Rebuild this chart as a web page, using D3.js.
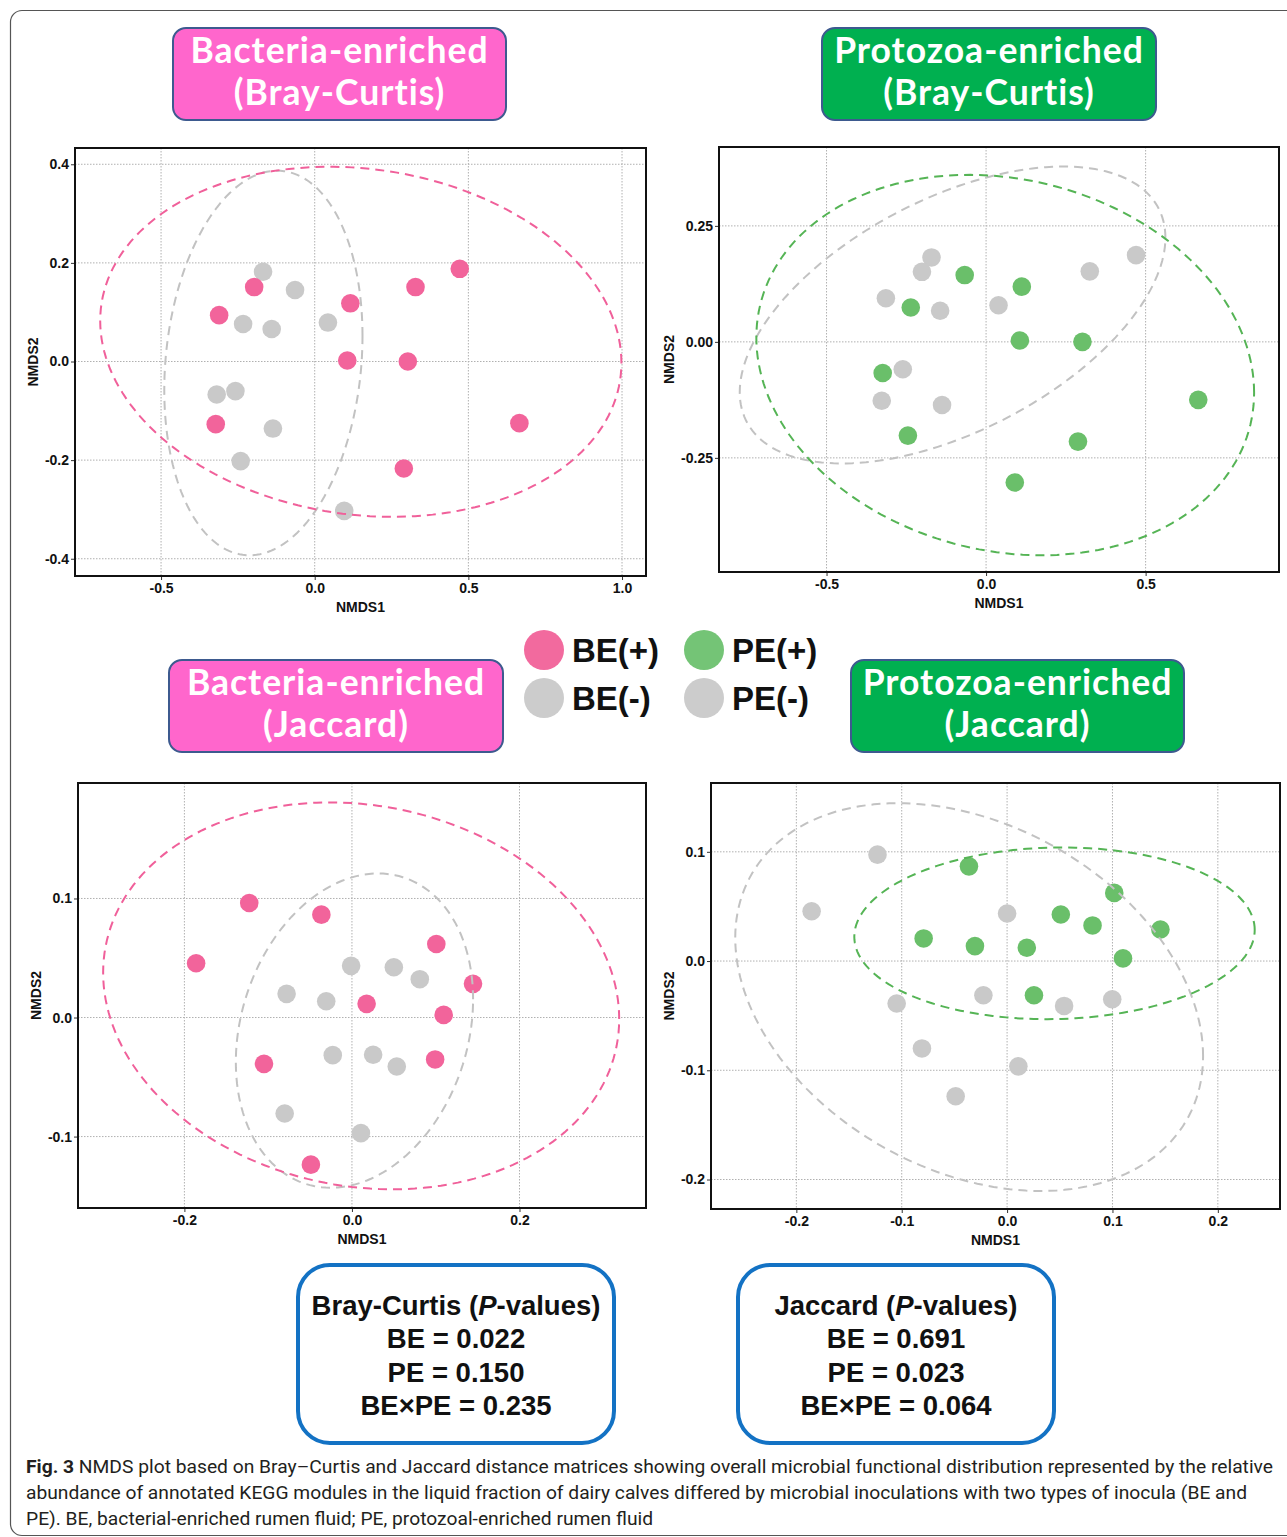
<!DOCTYPE html>
<html>
<head>
<meta charset="utf-8">
<script src="https://cdn.jsdelivr.net/npm/d3@7"></script>
<style>
  html, body { margin: 0; padding: 0; background: #fff; }
  svg { display: block; }
</style>
</head>
<body>
<svg id="chart" width="1287" height="1537"></svg>
<script>
// ---------------- DATA ----------------
// Panel 1: Bacteria-enriched (Bray-Curtis)  [NMDS1, NMDS2]
const bcBE_pos = [[-0.197,0.151],[-0.311,0.094],[0.116,0.118],[0.472,0.188],[0.328,0.151],
                  [0.106,0.002],[0.303,0.000],[-0.322,-0.127],[0.666,-0.125],[0.290,-0.217]];
const bcBE_neg = [[-0.168,0.182],[-0.064,0.145],[-0.233,0.076],[-0.140,0.066],[0.043,0.079],
                  [-0.319,-0.067],[-0.258,-0.060],[-0.136,-0.136],[-0.241,-0.202],[0.096,-0.303]];
// Panel 2: Protozoa-enriched (Bray-Curtis)
const bcPE_pos = [[-0.067,0.144],[-0.236,0.074],[0.112,0.119],[0.106,0.003],[0.302,0.000],
                  [-0.324,-0.067],[0.665,-0.125],[-0.245,-0.202],[0.288,-0.215],[0.090,-0.303]];
const bcPE_neg = [[-0.171,0.182],[-0.201,0.151],[-0.314,0.094],[-0.144,0.067],[0.039,0.079],
                  [0.325,0.152],[0.470,0.187],[-0.261,-0.059],[-0.327,-0.127],[-0.138,-0.136]];
// Panel 3: Bacteria-enriched (Jaccard)
const jBE_pos = [[-0.1226,0.0962],[-0.0365,0.0864],[-0.186,0.0456],[0.1007,0.0618],[0.1445,0.0283],
                 [0.0175,0.0115],[0.1095,0.0022],[-0.105,-0.0389],[0.0993,-0.0352],[-0.049,-0.1236]];
const jBE_neg = [[-0.001,0.0434],[0.050,0.0422],[0.081,0.0322],[-0.078,0.0199],[-0.0307,0.0137],
                 [-0.0229,-0.0316],[0.0253,-0.0313],[0.0535,-0.0411],[-0.0803,-0.0806],[0.0107,-0.0971]];
// Panel 4: Protozoa-enriched (Jaccard)
const jPE_pos = [[-0.0362,0.0867],[0.1017,0.0624],[0.051,0.0426],[0.0811,0.0326],[0.1455,0.0289],
                 [-0.0792,0.0207],[-0.0305,0.0137],[0.0187,0.0122],[0.110,0.0024],[0.0255,-0.0313]];
const jPE_neg = [[-0.123,0.0974],[-0.1855,0.0456],[0.000,0.0435],[-0.0225,-0.0313],[-0.1048,-0.0389],
                 [0.0541,-0.0411],[0.0998,-0.035],[-0.0808,-0.080],[0.0107,-0.0964],[-0.0488,-0.1238]];

// Confidence ellipses: [centerX, centerY, halfWidthX, halfHeightY, correlation]
const bcBE_ellPos = [0.150, 0.040, 0.848, 0.355, -0.12];
const bcBE_ellNeg = [-0.167, -0.003, 0.3225, 0.390, 0.14];
const bcPE_ellPos = [0.060, -0.050, 0.780, 0.410, -0.145];
const bcPE_ellNeg = [-0.105, 0.058, 0.667, 0.320, 0.52];
const jBE_ellPos  = [0.011, 0.0182, 0.308, 0.1625, -0.12];
const jBE_ellNeg  = [0.003, -0.011, 0.1416, 0.132, 0.20];
const jPE_ellPos  = [0.045, 0.0254, 0.190, 0.0786, 0.04];
const jPE_ellNeg  = [-0.036, -0.033, 0.222, 0.1775, -0.305];

// Axis domains and ticks
const bcBE_xDomain = [-0.78, 1.078], bcBE_yDomain = [-0.435, 0.433];
const bcPE_xDomain = [-0.837, 0.918], bcPE_yDomain = [-0.496, 0.42];
const jBE_xDomain  = [-0.327, 0.351], jBE_yDomain  = [-0.160, 0.197];
const jPE_xDomain  = [-0.281, 0.259], jPE_yDomain  = [-0.227, 0.163];
const bcBE_xTicks = [-0.5, 0.0, 0.5, 1.0], bcBE_yTicks = [-0.4, -0.2, 0.0, 0.2, 0.4];
const bcPE_xTicks = [-0.5, 0.0, 0.5],      bcPE_yTicks = [-0.25, 0.0, 0.25];
const jBE_xTicks  = [-0.2, 0.0, 0.2],      jBE_yTicks  = [-0.1, 0.0, 0.1];
const jPE_xTicks  = [-0.2, -0.1, 0.0, 0.1, 0.2], jPE_yTicks = [-0.2, -0.1, 0.0, 0.1];

const panelTitles = [["Bacteria-enriched","(Bray-Curtis)"],["Protozoa-enriched","(Bray-Curtis)"],
                     ["Bacteria-enriched","(Jaccard)"],["Protozoa-enriched","(Jaccard)"]];
const legendLabels = ["BE(+)","BE(-)","PE(+)","PE(-)"];
const bcPvalues = [["BE","0.022"],["PE","0.150"],["BE×PE","0.235"]];
const jPvalues  = [["BE","0.691"],["PE","0.023"],["BE×PE","0.064"]];
const captionLines = [
  "NMDS plot based on Bray–Curtis and Jaccard distance matrices showing overall microbial functional distribution represented by the relative",
  "abundance of annotated KEGG modules in the liquid fraction of dairy calves differed by microbial inoculations with two types of inocula (BE and",
  "PE). BE, bacterial-enriched rumen fluid; PE, protozoal-enriched rumen fluid"
];

// ---------------- STYLE ----------------
const PINK = "#f2649b", GREEN = "#6abf6a", GREY = "#c9c9c9";
const PINK_E = "#f0609a", GREEN_E = "#55b455", GREY_E = "#c2c2c2";
const TITLE_PINK = "#ff66cc", TITLE_GREEN = "#00b050", TITLE_STROKE = "#3d5a8f";

const loc = d3.formatLocale({decimal: ".", thousands: ",", grouping: [3], currency: ["", ""], minus: "-"});

const svg = d3.select("#chart");
svg.append("rect").attr("width",1287).attr("height",1537).attr("fill","#fff");

// outer frame
svg.append("path")
  .attr("d","M1287,10.5 H22 A11.5,11.5 0 0 0 10.5,22 V1524 A11.5,11.5 0 0 0 22,1535.5 H1287")
  .attr("fill","none").attr("stroke","#555").attr("stroke-width",1.2);

// ---------------- PANELS ----------------
const panels = [
  {box:[75,148,646,576], xd:bcBE_xDomain, yd:bcBE_yDomain, xt:bcBE_xTicks, yt:bcBE_yTicks, yfmt:".1f",
   pos:bcBE_pos, neg:bcBE_neg, eP:bcBE_ellPos, eN:bcBE_ellNeg, col:PINK, ecol:PINK_E, xlab:607, ylab:33},
  {box:[719,147,1279,572], xd:bcPE_xDomain, yd:bcPE_yDomain, xt:bcPE_xTicks, yt:bcPE_yTicks, yfmt:".2f",
   pos:bcPE_pos, neg:bcPE_neg, eP:bcPE_ellPos, eN:bcPE_ellNeg, col:GREEN, ecol:GREEN_E, xlab:603, ylab:669},
  {box:[78,783,646,1208], xd:jBE_xDomain, yd:jBE_yDomain, xt:jBE_xTicks, yt:jBE_yTicks, yfmt:".1f",
   pos:jBE_pos, neg:jBE_neg, eP:jBE_ellPos, eN:jBE_ellNeg, col:PINK, ecol:PINK_E, xlab:1239, ylab:36},
  {box:[711,783,1280,1209], xd:jPE_xDomain, yd:jPE_yDomain, xt:jPE_xTicks, yt:jPE_yTicks, yfmt:".1f",
   pos:jPE_pos, neg:jPE_neg, eP:jPE_ellPos, eN:jPE_ellNeg, col:GREEN, ecol:GREEN_E, xlab:1240, ylab:669}
];

function ellipsePts(e) {
  const [cx, cy, w, h, r] = e;
  const pts = [];
  for (let i = 0; i < 180; i++) {
    const t = i / 180 * 2 * Math.PI;
    pts.push([cx + w * Math.cos(t), cy + r * h * Math.cos(t) + h * Math.sqrt(1 - r * r) * Math.sin(t)]);
  }
  return pts;
}

panels.forEach((p, i) => {
  const [x0, y0, x1, y1] = p.box;
  const x = d3.scaleLinear().domain(p.xd).range([x0, x1]);
  const y = d3.scaleLinear().domain(p.yd).range([y1, y0]);
  const g = svg.append("g");
  const clipId = "clip" + i;
  svg.append("clipPath").attr("id", clipId).append("rect")
    .attr("x", x0).attr("y", y0).attr("width", x1 - x0).attr("height", y1 - y0);

  // grid
  const grid = g.append("g").attr("clip-path", `url(#${clipId})`);
  grid.selectAll("line.vx").data(p.xt).join("line")
    .attr("x1", d => x(d)).attr("x2", d => x(d)).attr("y1", y0).attr("y2", y1)
    .attr("stroke", "#b0b0b0").attr("stroke-width", 1).attr("stroke-dasharray", "1.5,1.5");
  grid.selectAll("line.hy").data(p.yt).join("line")
    .attr("x1", x0).attr("x2", x1).attr("y1", d => y(d)).attr("y2", d => y(d))
    .attr("stroke", "#b0b0b0").attr("stroke-width", 1).attr("stroke-dasharray", "1.5,1.5");

  // axes
  const xAxis = d3.axisBottom(x).tickValues(p.xt).tickFormat(loc.format(".1f")).tickSize(4).tickPadding(3);
  const yAxis = d3.axisLeft(y).tickValues(p.yt).tickFormat(loc.format(p.yfmt)).tickSize(4).tickPadding(2);
  const gx = g.append("g").attr("transform", `translate(0,${y1})`).call(xAxis);
  const gy = g.append("g").attr("transform", `translate(${x0},0)`).call(yAxis);
  [gx, gy].forEach(a => {
    a.select(".domain").remove();
    a.selectAll(".tick line").attr("stroke", "#333");
    a.selectAll(".tick text").attr("font-family", "Liberation Sans, Arial, sans-serif")
      .attr("font-weight", "bold").attr("font-size", 14).attr("fill", "#111");
  });

  // points
  const pts = g.append("g").attr("clip-path", `url(#${clipId})`);
  pts.selectAll("circle.neg").data(p.neg).join("circle")
    .attr("cx", d => x(d[0])).attr("cy", d => y(d[1])).attr("r", 9.3).attr("fill", GREY);
  pts.selectAll("circle.pos").data(p.pos).join("circle")
    .attr("cx", d => x(d[0])).attr("cy", d => y(d[1])).attr("r", 9.3).attr("fill", p.col);

  // ellipses
  const line = d3.line().x(d => x(d[0])).y(d => y(d[1])).curve(d3.curveLinearClosed);
  const eg = g.append("g").attr("clip-path", `url(#${clipId})`);
  eg.append("path").attr("d", line(ellipsePts(p.eN))).attr("fill", "none")
    .attr("stroke", GREY_E).attr("stroke-width", 2).attr("stroke-dasharray", "9,6");
  eg.append("path").attr("d", line(ellipsePts(p.eP))).attr("fill", "none")
    .attr("stroke", p.ecol).attr("stroke-width", 2).attr("stroke-dasharray", "9,6");

  // border
  g.append("rect").attr("x", x0).attr("y", y0).attr("width", x1 - x0).attr("height", y1 - y0)
    .attr("fill", "none").attr("stroke", "#111").attr("stroke-width", 2);

  // axis titles
  g.append("text").attr("x", (x0 + x1) / 2).attr("y", p.xlab + 5).attr("text-anchor", "middle")
    .attr("font-family", "Liberation Sans, Arial, sans-serif").attr("font-weight", "bold")
    .attr("font-size", 14).attr("fill", "#111").text("NMDS1");
  g.append("text").attr("transform", `translate(${p.ylab + 5},${(y0 + y1) / 2}) rotate(-90)`)
    .attr("text-anchor", "middle")
    .attr("font-family", "Liberation Sans, Arial, sans-serif").attr("font-weight", "bold")
    .attr("font-size", 14).attr("fill", "#111").text("NMDS2");
});

// ---------------- TITLE BOXES ----------------
const titleBoxes = [
  {x:173, y:28, w:333, h:92, fill:TITLE_PINK},
  {x:822, y:28, w:334, h:92, fill:TITLE_GREEN},
  {x:169, y:660, w:334, h:92, fill:TITLE_PINK},
  {x:851, y:660, w:333, h:92, fill:TITLE_GREEN}
];
titleBoxes.forEach((b, i) => {
  svg.append("rect").attr("x", b.x).attr("y", b.y).attr("width", b.w).attr("height", b.h)
    .attr("rx", 13).attr("fill", b.fill).attr("stroke", TITLE_STROKE).attr("stroke-width", 2);
  [0, 1].forEach(k => {
    svg.append("text").attr("text-anchor", "middle")
      .attr("x", b.x + b.w / 2).attr("y", b.y + (k === 0 ? 35 : 77))
      .attr("font-family", "Lato, 'Open Sans', sans-serif").attr("font-weight", "bold")
      .attr("font-size", 35.5).attr("letter-spacing", 1).attr("fill", "#fff")
      .text(panelTitles[i][k]);
  });
});

// ---------------- LEGEND ----------------
const legendItems = [
  {cx:544, cy:650, col:"#f26a9e"}, {cx:544, cy:698, col:"#cccccc"},
  {cx:704, cy:650, col:"#74c476"}, {cx:704, cy:698, col:"#cccccc"}
];
legendItems.forEach((d, i) => {
  svg.append("circle").attr("cx", d.cx).attr("cy", d.cy).attr("r", 20).attr("fill", d.col);
  svg.append("text").attr("x", d.cx + 28).attr("y", d.cy + 12)
    .attr("font-family", "Liberation Sans, Arial, sans-serif").attr("font-weight", "bold")
    .attr("font-size", 33).attr("fill", "#111").text(legendLabels[i]);
});

// ---------------- P-VALUE BOXES ----------------
const pBoxes = [
  {x:298, y:1265, w:316, h:178, head:"Bray-Curtis", vals:bcPvalues},
  {x:738, y:1265, w:316, h:178, head:"Jaccard", vals:jPvalues}
];
pBoxes.forEach(b => {
  svg.append("rect").attr("x", b.x).attr("y", b.y).attr("width", b.w).attr("height", b.h)
    .attr("rx", 32).attr("fill", "#fff").attr("stroke", "#1372c4").attr("stroke-width", 4);
  const cx = b.x + b.w / 2;
  const head = svg.append("text").attr("x", cx).attr("y", b.y + 50).attr("text-anchor", "middle")
    .attr("font-family", "Liberation Sans, Arial, sans-serif").attr("font-weight", "bold")
    .attr("font-size", 27.5).attr("fill", "#111");
  head.append("tspan").text(b.head + " (");
  head.append("tspan").attr("font-style", "italic").text("P");
  head.append("tspan").text("-values)");
  b.vals.forEach((v, j) => {
    svg.append("text").attr("x", cx).attr("y", b.y + 83 + j * 33.5).attr("text-anchor", "middle")
      .attr("font-family", "Liberation Sans, Arial, sans-serif").attr("font-weight", "bold")
      .attr("font-size", 27.5).attr("fill", "#111").text(v[0] + " = " + v[1]);
  });
});

// ---------------- CAPTION ----------------
const capWidths = [1247, 1221, 627];
captionLines.forEach((line, i) => {
  const t = svg.append("text").attr("x", 26).attr("y", 1473 + i * 26)
    .attr("font-family", "Roboto, 'Noto Sans', sans-serif").attr("font-size", 17.5)
    .attr("fill", "#231f20")
    .attr("textLength", capWidths[i]).attr("lengthAdjust", "spacingAndGlyphs");
  if (i === 0) {
    t.append("tspan").attr("font-weight", "bold").text("Fig. 3");
    t.append("tspan").text("  " + line);
  } else {
    t.text(line);
  }
});
</script>
</body>
</html>
